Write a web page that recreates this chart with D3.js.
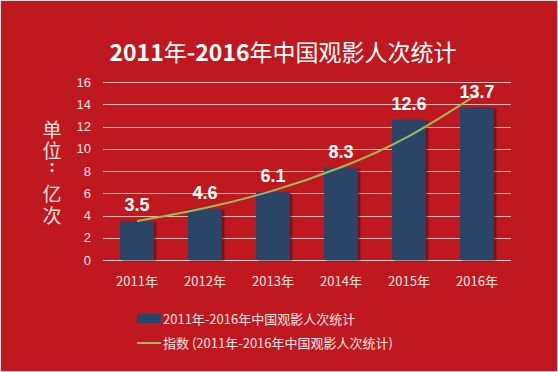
<!DOCTYPE html>
<html>
<head>
<meta charset="utf-8">
<script src="https://cdn.jsdelivr.net/npm/d3@7"></script>
<style>
  body { margin: 0; background: #fff; }
  svg { display: block; }
</style>
</head>
<body>
<svg width="558" height="372"></svg>
<script>
var years = ["2011年", "2012年", "2013年", "2014年", "2015年", "2016年"];
var values = [3.5, 4.6, 6.1, 8.3, 12.6, 13.7];
var yTicks = [0, 2, 4, 6, 8, 10, 12, 14, 16];
var title = "中国观影人次统计";
var seriesName = "2011年-2016年中国观影人次统计";
var trendName = "指数 (2011年-2016年中国观影人次统计)";
var unitLabel = ["单", "位", ":", "亿", "次"];

var svg = d3.select("svg");
var bg = "#C0181F";
var barColor = "#2A4468";
var lineColor = "#9BBB59";
var textColor = "#F6E4E4";
var cjk = "'Noto Sans CJK SC', 'Liberation Sans', sans-serif";

// background + thin frame
svg.append("rect").attr("x", 0.5).attr("y", 0.5).attr("width", 557).attr("height", 371)
   .style("fill", bg).style("stroke", "#d9d9d9").style("stroke-width", 1);

var defs = svg.append("defs");
var f = defs.append("filter").attr("id", "shadow").attr("x", "-20%").attr("y", "-10%")
            .attr("width", "150%").attr("height", "130%");
f.append("feDropShadow").attr("dx", 2).attr("dy", 1).attr("stdDeviation", 1.2)
 .attr("flood-color", "#000").attr("flood-opacity", 0.45);

var x = d3.scaleBand().domain(years).range([103, 511]).paddingInner(0.5).paddingOuter(0.25);
var y = d3.scaleLinear().domain([0, 16]).range([260, 82]);

// gridlines
svg.append("g").selectAll("line").data(yTicks).enter()
   .append("line")
     .attr("x1", 103).attr("x2", 511)
     .attr("y1", function(d) { return Math.round(y(d)) + 0.5; })
     .attr("y2", function(d) { return Math.round(y(d)) + 0.5; })
     .style("stroke", function(d) { return d === 0 ? "rgba(235,225,225,0.9)" : "rgba(255,235,235,0.75)"; })
     .style("stroke-width", 1.2);

// y axis labels
var yAxis = d3.axisLeft(y).tickValues(yTicks).tickSize(0).tickPadding(0);
var gy = svg.append("g").attr("transform", "translate(91,0)").call(yAxis);
gy.select(".domain").remove();
gy.selectAll("text").style("fill", textColor).style("font-family", "'Liberation Sans', sans-serif")
  .style("font-size", "13px");

// x axis labels
var xAxis = d3.axisBottom(x).tickSize(0).tickPadding(0);
var gx = svg.append("g").attr("transform", "translate(0,277)").call(xAxis);
gx.select(".domain").remove();
gx.selectAll("text").style("fill", textColor).style("font-family", cjk).style("font-size", "13px");

// bars
svg.append("g").selectAll("rect").data(values).enter()
   .append("rect")
     .attr("x", function(d, i) { return x(years[i]); })
     .attr("y", function(d) { return y(d); })
     .attr("width", x.bandwidth())
     .attr("height", function(d) { return y(0) - y(d); })
     .style("fill", barColor)
     .attr("filter", "url(#shadow)");

// exponential trendline (least squares fit on log values)
var mx = d3.mean(values, function(d, i) { return i; });
var my = d3.mean(values, function(d) { return Math.log(d); });
var sxy = d3.sum(values, function(d, i) { return (i - mx) * (Math.log(d) - my); });
var sxx = d3.sum(values, function(d, i) { return (i - mx) * (i - mx); });
var b = sxy / sxx;
var a = my - b * mx;
var trend = values.map(function(d, i) { return Math.exp(a + b * i); });

var line = d3.line()
  .x(function(d, i) { return x(years[i]) + x.bandwidth() / 2; })
  .y(function(d) { return y(d); })
  .curve(d3.curveNatural);

svg.append("path").datum(trend).attr("d", line)
   .style("fill", "none").style("stroke", lineColor).style("stroke-width", 2);

// data labels
svg.append("g").selectAll("text").data(values).enter()
   .append("text")
     .attr("x", function(d, i) { return x(years[i]) + x.bandwidth() / 2; })
     .attr("y", function(d) { return y(d) - 10; })
     .attr("text-anchor", "middle")
     .text(function(d) { return d.toFixed(1); })
     .style("fill", "#fff").style("font-weight", "bold")
     .style("font-family", "'Liberation Sans', sans-serif").style("font-size", "18px");

// title
var t = svg.append("text").attr("x", 283).attr("y", 61).attr("text-anchor", "middle")
   .style("fill", "#fff").style("font-family", cjk).style("font-size", "23px");
t.append("tspan").text("2011").style("font-weight", "bold");
t.append("tspan").text("年");
t.append("tspan").text("-2016").style("font-weight", "bold");
t.append("tspan").text("年" + title);

// unit label, stacked vertically (colon sits in a narrower slot)
var unitY = [137, 158, 172, 201, 223];
svg.append("g").selectAll("text").data(unitLabel).enter()
   .append("text")
     .attr("x", 52)
     .attr("y", function(d, i) { return unitY[i]; })
     .attr("text-anchor", "middle")
     .text(function(d) { return d; })
     .style("fill", textColor).style("font-family", cjk)
     .style("font-weight", function(d) { return d === ":" ? "bold" : "normal"; })
     .style("font-size", function(d) { return d === ":" ? "16px" : "19px"; });

// legend
svg.append("rect").attr("x", 137).attr("y", 314).attr("width", 24).attr("height", 9)
   .style("fill", barColor);
svg.append("text").attr("x", 163).attr("y", 324).text(seriesName)
   .style("fill", textColor).style("font-family", cjk).style("font-size", "13px");
svg.append("line").attr("x1", 137).attr("x2", 161).attr("y1", 343).attr("y2", 343)
   .style("stroke", lineColor).style("stroke-width", 2);
svg.append("text").attr("x", 163).attr("y", 348).text(trendName)
   .style("fill", textColor).style("font-family", cjk).style("font-size", "13px");
</script>
</body>
</html>
